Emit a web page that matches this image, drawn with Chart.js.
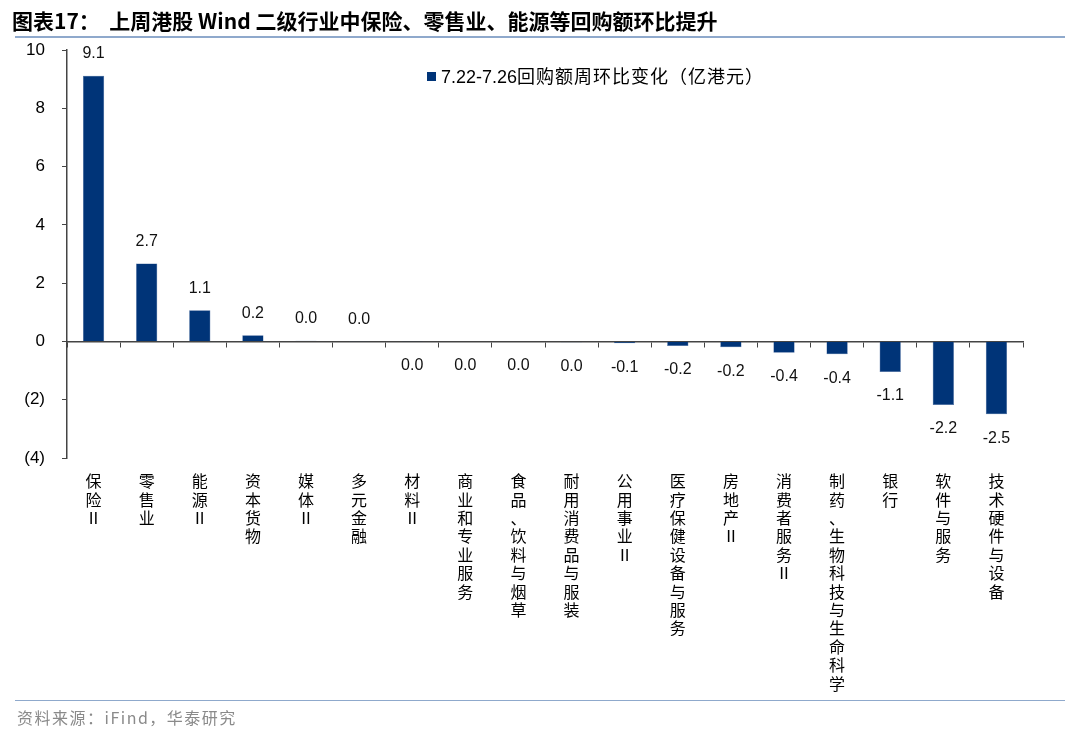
<!DOCTYPE html>
<html>
<head>
<meta charset="utf-8">
<script src="https://cdn.jsdelivr.net/npm/chart.js@4.4.1/dist/chart.umd.min.js"></script>
<style>
  html, body { margin: 0; padding: 0; background: #fff; }
  body { width: 1080px; height: 734px; position: relative; overflow: hidden; font-family: "Noto Sans CJK SC", sans-serif; }
  #chart { position: absolute; left: 0; top: 0; }
  .title { position: absolute; left: 12px; top: 5px; font-size: 21px; font-weight: bold; color: #000; white-space: pre; }
  .rule { position: absolute; left: 15px; width: 1050px; height: 0; border-top: 2px solid #8fa9cc; }
  .source { position: absolute; left: 17px; top: 705px; font-size: 16px; letter-spacing: 1.5px; color: #8a8a8a; }
  .legend { position: absolute; left: 427px; top: 62px; font-size: 18px; letter-spacing: 1px; color: #000; white-space: nowrap; }
  .legend i { display: inline-block; width: 9px; height: 9px; background: #003478; margin-right: 5px; vertical-align: 2px; }
  .legend b { font-weight: normal; letter-spacing: 0; font-family: "Liberation Sans", Arial, sans-serif; }
</style>
</head>
<body>
<canvas id="chart" width="1080" height="734"></canvas>
<div class="title">图表17：  上周港股 Wind 二级行业中保险、零售业、能源等回购额环比提升</div>
<div class="rule" style="top:36px"></div>
<div class="legend"><i></i><b>7.22-7.26</b>回购额周环比变化（亿港元）</div>
<div class="rule" style="top:700px;border-top:1.5px solid #8fa9cc"></div>
<div class="source">资料来源：iFind，华泰研究</div>
<script>
const d = document;

// 行业 & 回购额周环比变化（亿港元）
const categories = ['保险Ⅱ','零售业','能源Ⅱ','资本货物','媒体Ⅱ','多元金融','材料Ⅱ','商业和专业服务','食品、饮料与烟草','耐用消费品与服装','公用事业Ⅱ','医疗保健设备与服务','房地产Ⅱ','消费者服务Ⅱ','制药、生物科技与生命科学','银行','软件与服务','技术硬件与设备'];
const values = [9.12, 2.67, 1.07, 0.21, 0.02, 0.01, -0.01, -0.02, -0.02, -0.03, -0.06, -0.16, -0.2, -0.39, -0.44, -1.05, -2.18, -2.5];
const seriesName = '7.22-7.26回购额周环比变化（亿港元）';
const yMin = -4, yMax = 10, yStep = 2;

const labels = categories.map(s => Array.from(s));
const fmt = v => Math.abs(v) < 0.05 ? '0.0' : v.toFixed(1);

const barLabels = {
    id: 'barLabels',
    afterDatasetsDraw(chart) {
        const ctx = chart.ctx;
        const meta = chart.getDatasetMeta(0);
        ctx.save();
        ctx.font = '16px "Liberation Sans", Arial, sans-serif';
        ctx.fillStyle = '#111';
        ctx.textAlign = 'center';
        ctx.textBaseline = 'middle';
        meta.data.forEach((bar, i) => {
            const v = values[i];
            const y = v >= 0 ? bar.y - 22 : bar.y + 24;
            ctx.fillText(fmt(v), bar.x, y);
        });
        ctx.restore();
    }
};

const $chart = d.getElementById('chart').getContext('2d');

new Chart($chart, {
    type: 'bar',
    data: {
        labels: labels,
        datasets: [{
            label: seriesName,
            data: values,
            backgroundColor: '#003478',
            borderColor: '#3a5f98',
            borderWidth: 0.5,
            barPercentage: 0.4,
            categoryPercentage: 1
        }]
    },
    options: {
        responsive: false,
        animation: false,
        devicePixelRatio: 1,
        layout: { padding: { top: 50, right: 57, left: 0, bottom: 0 } },
        plugins: { legend: { display: false }, tooltip: { enabled: false } },
        scales: {
            x: {
                type: 'category',
                position: { y: 0 },
                offset: true,
                grid: { drawOnChartArea: false, drawTicks: true, tickLength: 5, offset: true, color: '#444' },
                border: { color: '#444', width: 1.5 },
                ticks: { display: false }
            },
            x2: {
                type: 'category',
                labels: labels,
                position: 'bottom',
                offset: true,
                grid: { display: false },
                border: { display: false },
                ticks: {
                    autoSkip: false,
                    maxRotation: 0,
                    padding: 6,
                    color: '#000',
                    font: { family: '"Noto Sans CJK SC", sans-serif', size: 16, lineHeight: 1.15 }
                },
                afterFit: s => { s.height = 734 - 458; }
            },
            y: {
                min: yMin,
                max: yMax,
                grid: { drawOnChartArea: false, drawTicks: true, tickLength: 5, color: '#444' },
                border: { color: '#444', width: 1.5 },
                ticks: {
                    stepSize: yStep,
                    padding: 17,
                    color: '#000',
                    font: { family: '"Liberation Sans", Arial, sans-serif', size: 17 },
                    callback: v => v < 0 ? '(' + (-v) + ')' : String(v)
                },
                afterFit: s => { s.width = 67; }
            }
        }
    },
    plugins: [barLabels]
});
</script>
</body>
</html>
